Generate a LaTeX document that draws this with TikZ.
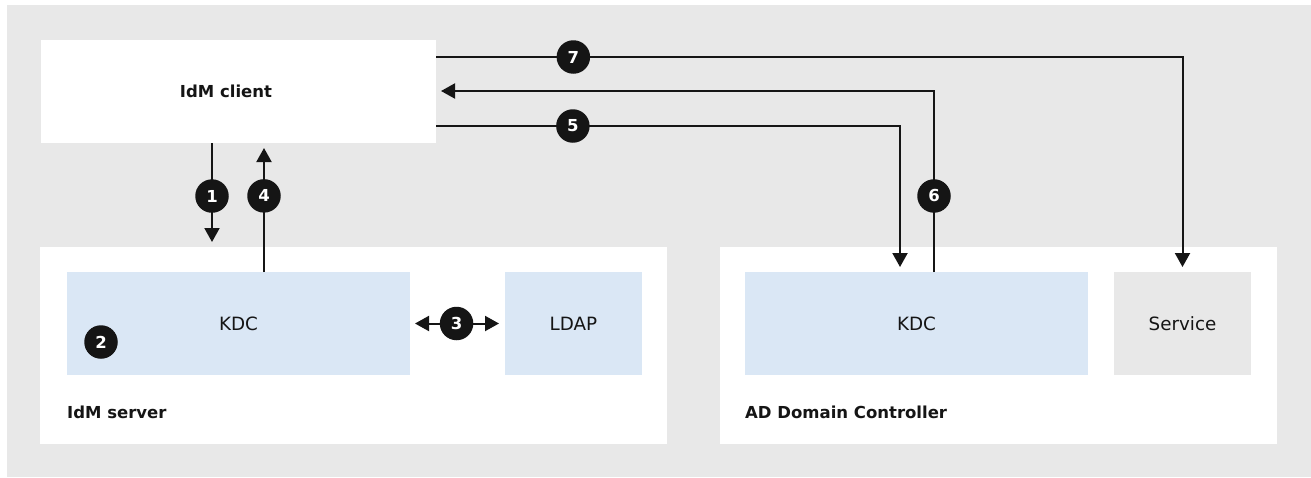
\documentclass[tikz,border=0pt]{standalone}
\usepackage{fontspec}
\setmainfont{DejaVu Sans}
\usetikzlibrary{arrows.meta}
\definecolor{bggray}{HTML}{E8E8E8}
\definecolor{kblue}{HTML}{DAE7F5}
\definecolor{ink}{HTML}{151515}
\begin{document}
\begin{tikzpicture}[x=1pt,y=-1pt,
  box/.style={rectangle, inner sep=0pt, outer sep=0pt, draw=none, text=ink},
  whitebox/.style={box, fill=white},
  bluebox/.style={box, fill=kblue, font=\fontsize{18.3}{21}\selectfont},
  graybox/.style={box, fill=bggray, font=\fontsize{18.3}{21}\selectfont},
  lbl/.style={anchor=base west, inner sep=0pt, text=ink, font=\bfseries\fontsize{16.5}{19}\selectfont},
  num/.style={circle, fill=ink, text=white, minimum size=33.5pt, inner sep=0pt, font=\bfseries\fontsize{16.5}{18}\selectfont},
  conn/.style={draw=ink, line width=2pt},
  arr/.style={conn, -{Triangle[length=14pt,width=15pt]}, shorten >=5pt},
]
\useasboundingbox (0,0) rectangle (1311,477);
\fill[bggray] (7,5) rectangle (1311,477);

% containers
\node[whitebox, minimum width=395pt, minimum height=103pt, font=\bfseries\fontsize{16.5}{19}\selectfont] (client) at (238.5,91.5) {IdM client\hspace*{25pt}};
\node[whitebox, minimum width=627pt, minimum height=197pt] (srv) at (353.5,345.5) {};
\node[whitebox, minimum width=557pt, minimum height=197pt] (ad) at (998.5,345.5) {};

% inner boxes
\node[bluebox, minimum width=343pt, minimum height=103pt] (kdc1) at (238.5,323.5) {KDC};
\node[bluebox, minimum width=137pt, minimum height=103pt] (ldap) at (573.5,323.5) {LDAP};
\node[bluebox, minimum width=343pt, minimum height=103pt] (kdc2) at (916.5,323.5) {KDC};
\node[graybox, minimum width=137pt, minimum height=103pt] (svc) at (1182.5,323.5) {Service};

% container labels
\node[lbl] (srvlbl) at (67,418) {IdM server};
\node[lbl] (adlbl) at (745,418) {AD Domain Controller};

% helper coordinates for connector routes
\coordinate (x1) at (212,0);
\coordinate (x4) at (264,0);
\coordinate (b5) at (900,126);
\coordinate (b6) at (934,91);
\coordinate (b7) at (1182.5,57);

% connectors
\draw[arr] (client.south -| x1) -- node[num, pos=0.51] {1} (srv.north -| x1);
\draw[arr] (kdc1.north -| x4) -- node[num, pos=0.59] {4} (client.south -| x4);
\draw[conn, {Triangle[length=14pt,width=15pt]}-{Triangle[length=14pt,width=15pt]}, shorten <=5pt, shorten >=6pt]
  (kdc1.east) -- node[num, pos=0.49] {3} (ldap.west);
\draw[arr] (client.east |- b5) -- node[num, pos=0.295] {5} (b5) -- (kdc2.north -| b5);
\draw[arr] (kdc2.north -| b6) -- node[num, pos=0.42] {6} (b6) -- (client.east |- b6);
\draw[arr] (client.east |- b7) -- node[num, pos=0.184] {7} (b7) -- (svc.north);

% step 2 marker
\node[num] (n2) at (101,342) {2};
\end{tikzpicture}
\end{document}
